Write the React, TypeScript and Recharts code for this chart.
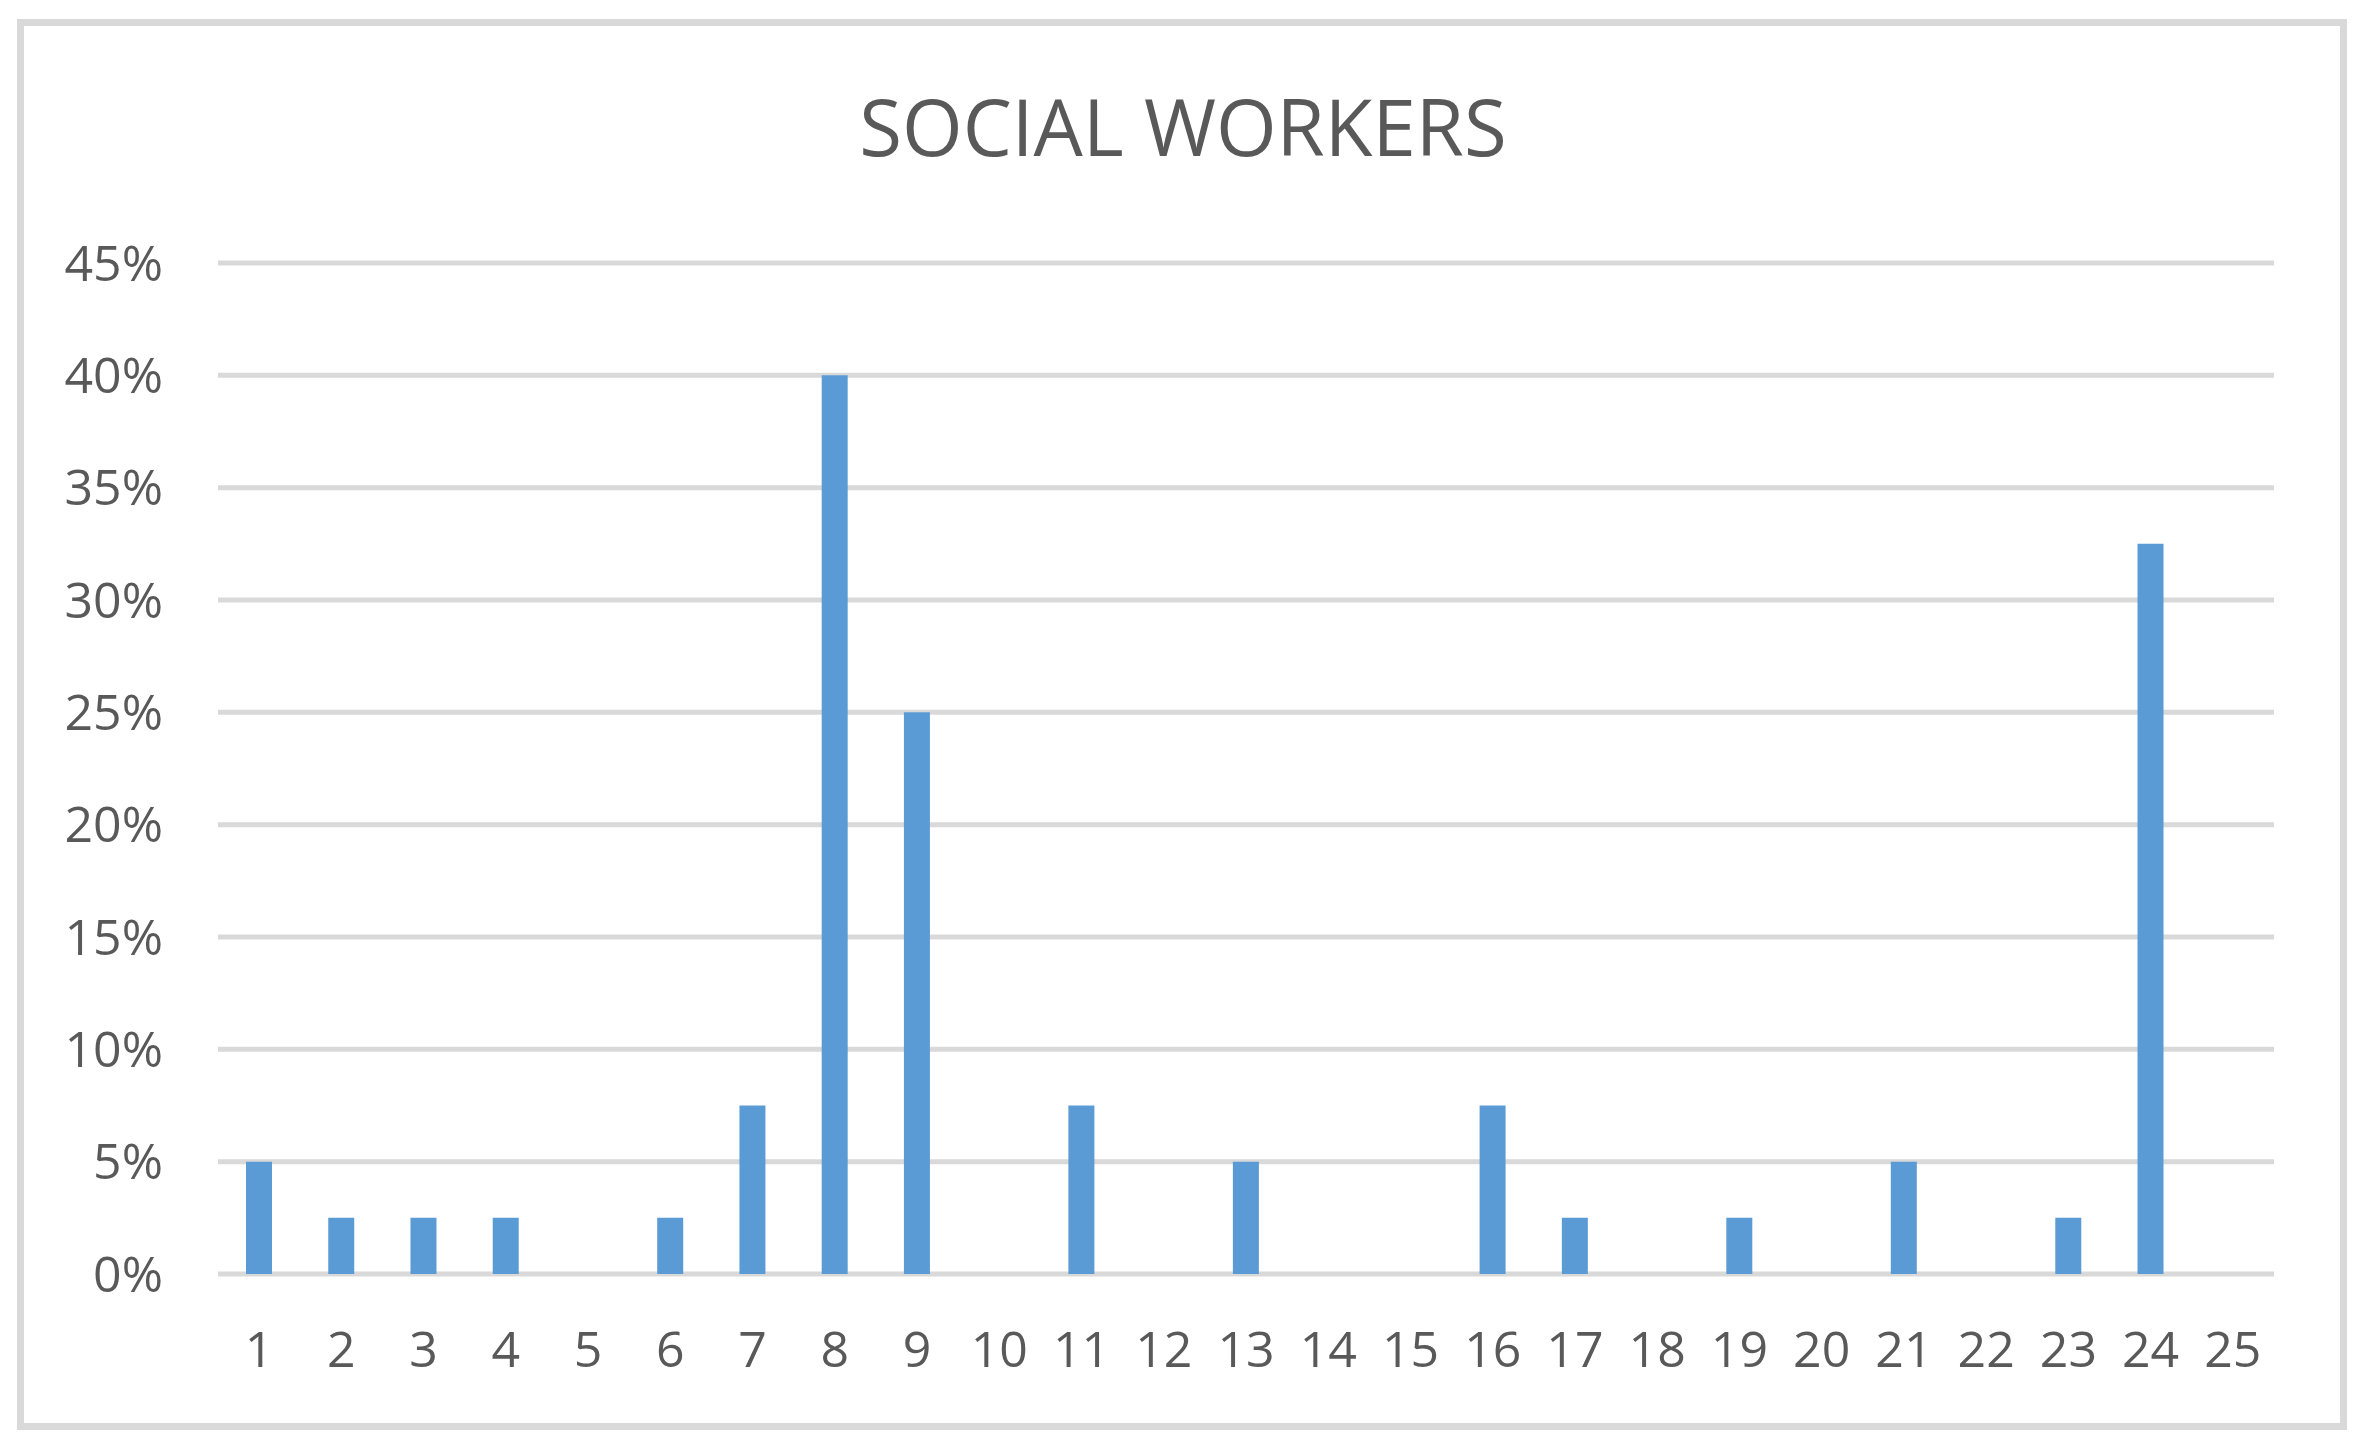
import { BarChart, Bar, CartesianGrid, XAxis, YAxis } from 'recharts'

const categories = [
  '1', '2', '3', '4', '5', '6', '7', '8', '9', '10', '11', '12', '13',
  '14', '15', '16', '17', '18', '19', '20', '21', '22', '23', '24', '25',
]
// share of respondents, in percent
const shares = [
  5, 2.5, 2.5, 2.5, 0, 2.5, 7.5, 40, 25, 0, 7.5, 0, 5,
  0, 0, 7.5, 2.5, 0, 2.5, 0, 5, 0, 2.5, 32.5, 0,
]
const yTicks = [0, 5, 10, 15, 20, 25, 30, 35, 40, 45]
const title = 'SOCIAL WORKERS'

const W = 2362
const H = 1445
const textColor = '#595959'
const font = '"Open Sans", "Noto Sans", sans-serif'

export default function App() {
  const data = categories.map((c, i) => ({ label: c, value: shares[i] }))

  return (
    <div style={{ position: 'absolute', left: 0, top: 0, width: W, height: H, background: '#fff' }}>
      <div
        style={{
          position: 'absolute',
          left: 17,
          top: 19,
          width: 2330,
          height: 1411,
          border: '7px solid #d9d9d9',
          boxSizing: 'border-box',
        }}
      />
      <svg
        width={W}
        height={H}
        style={{ position: 'absolute', left: 0, top: 0, pointerEvents: 'none' }}
      >
        <text x={1183} y={156} textAnchor="middle" fontSize={78} fill={textColor} fontFamily={font}>
          {title}
        </text>
      </svg>
      <div style={{ position: 'absolute', left: 0, top: 0 }}>
        <BarChart
          width={W}
          height={H}
          data={data}
          margin={{ top: 263, right: 88, bottom: 71, left: 18 }}
          style={{ fontFamily: font }}
        >
          <CartesianGrid vertical={false} stroke="#d9d9d9" strokeWidth={5} />
          <XAxis
            dataKey="label"
            height={100}
            axisLine={false}
            tickLine={false}
            tickSize={0}
            tickMargin={57}
            interval={0}
            tick={{ fontSize: 50, fill: textColor }}
          />
          <YAxis
            width={200}
            domain={[0, 45]}
            ticks={yTicks}
            axisLine={false}
            tickLine={false}
            tickSize={0}
            tickMargin={55}
            tickFormatter={(v: number) => `${v}%`}
            tick={{ fontSize: 50, fill: textColor }}
          />
          <Bar dataKey="value" fill="#5b9bd5" barSize={26} isAnimationActive={false} />
        </BarChart>
      </div>
    </div>
  )
}
